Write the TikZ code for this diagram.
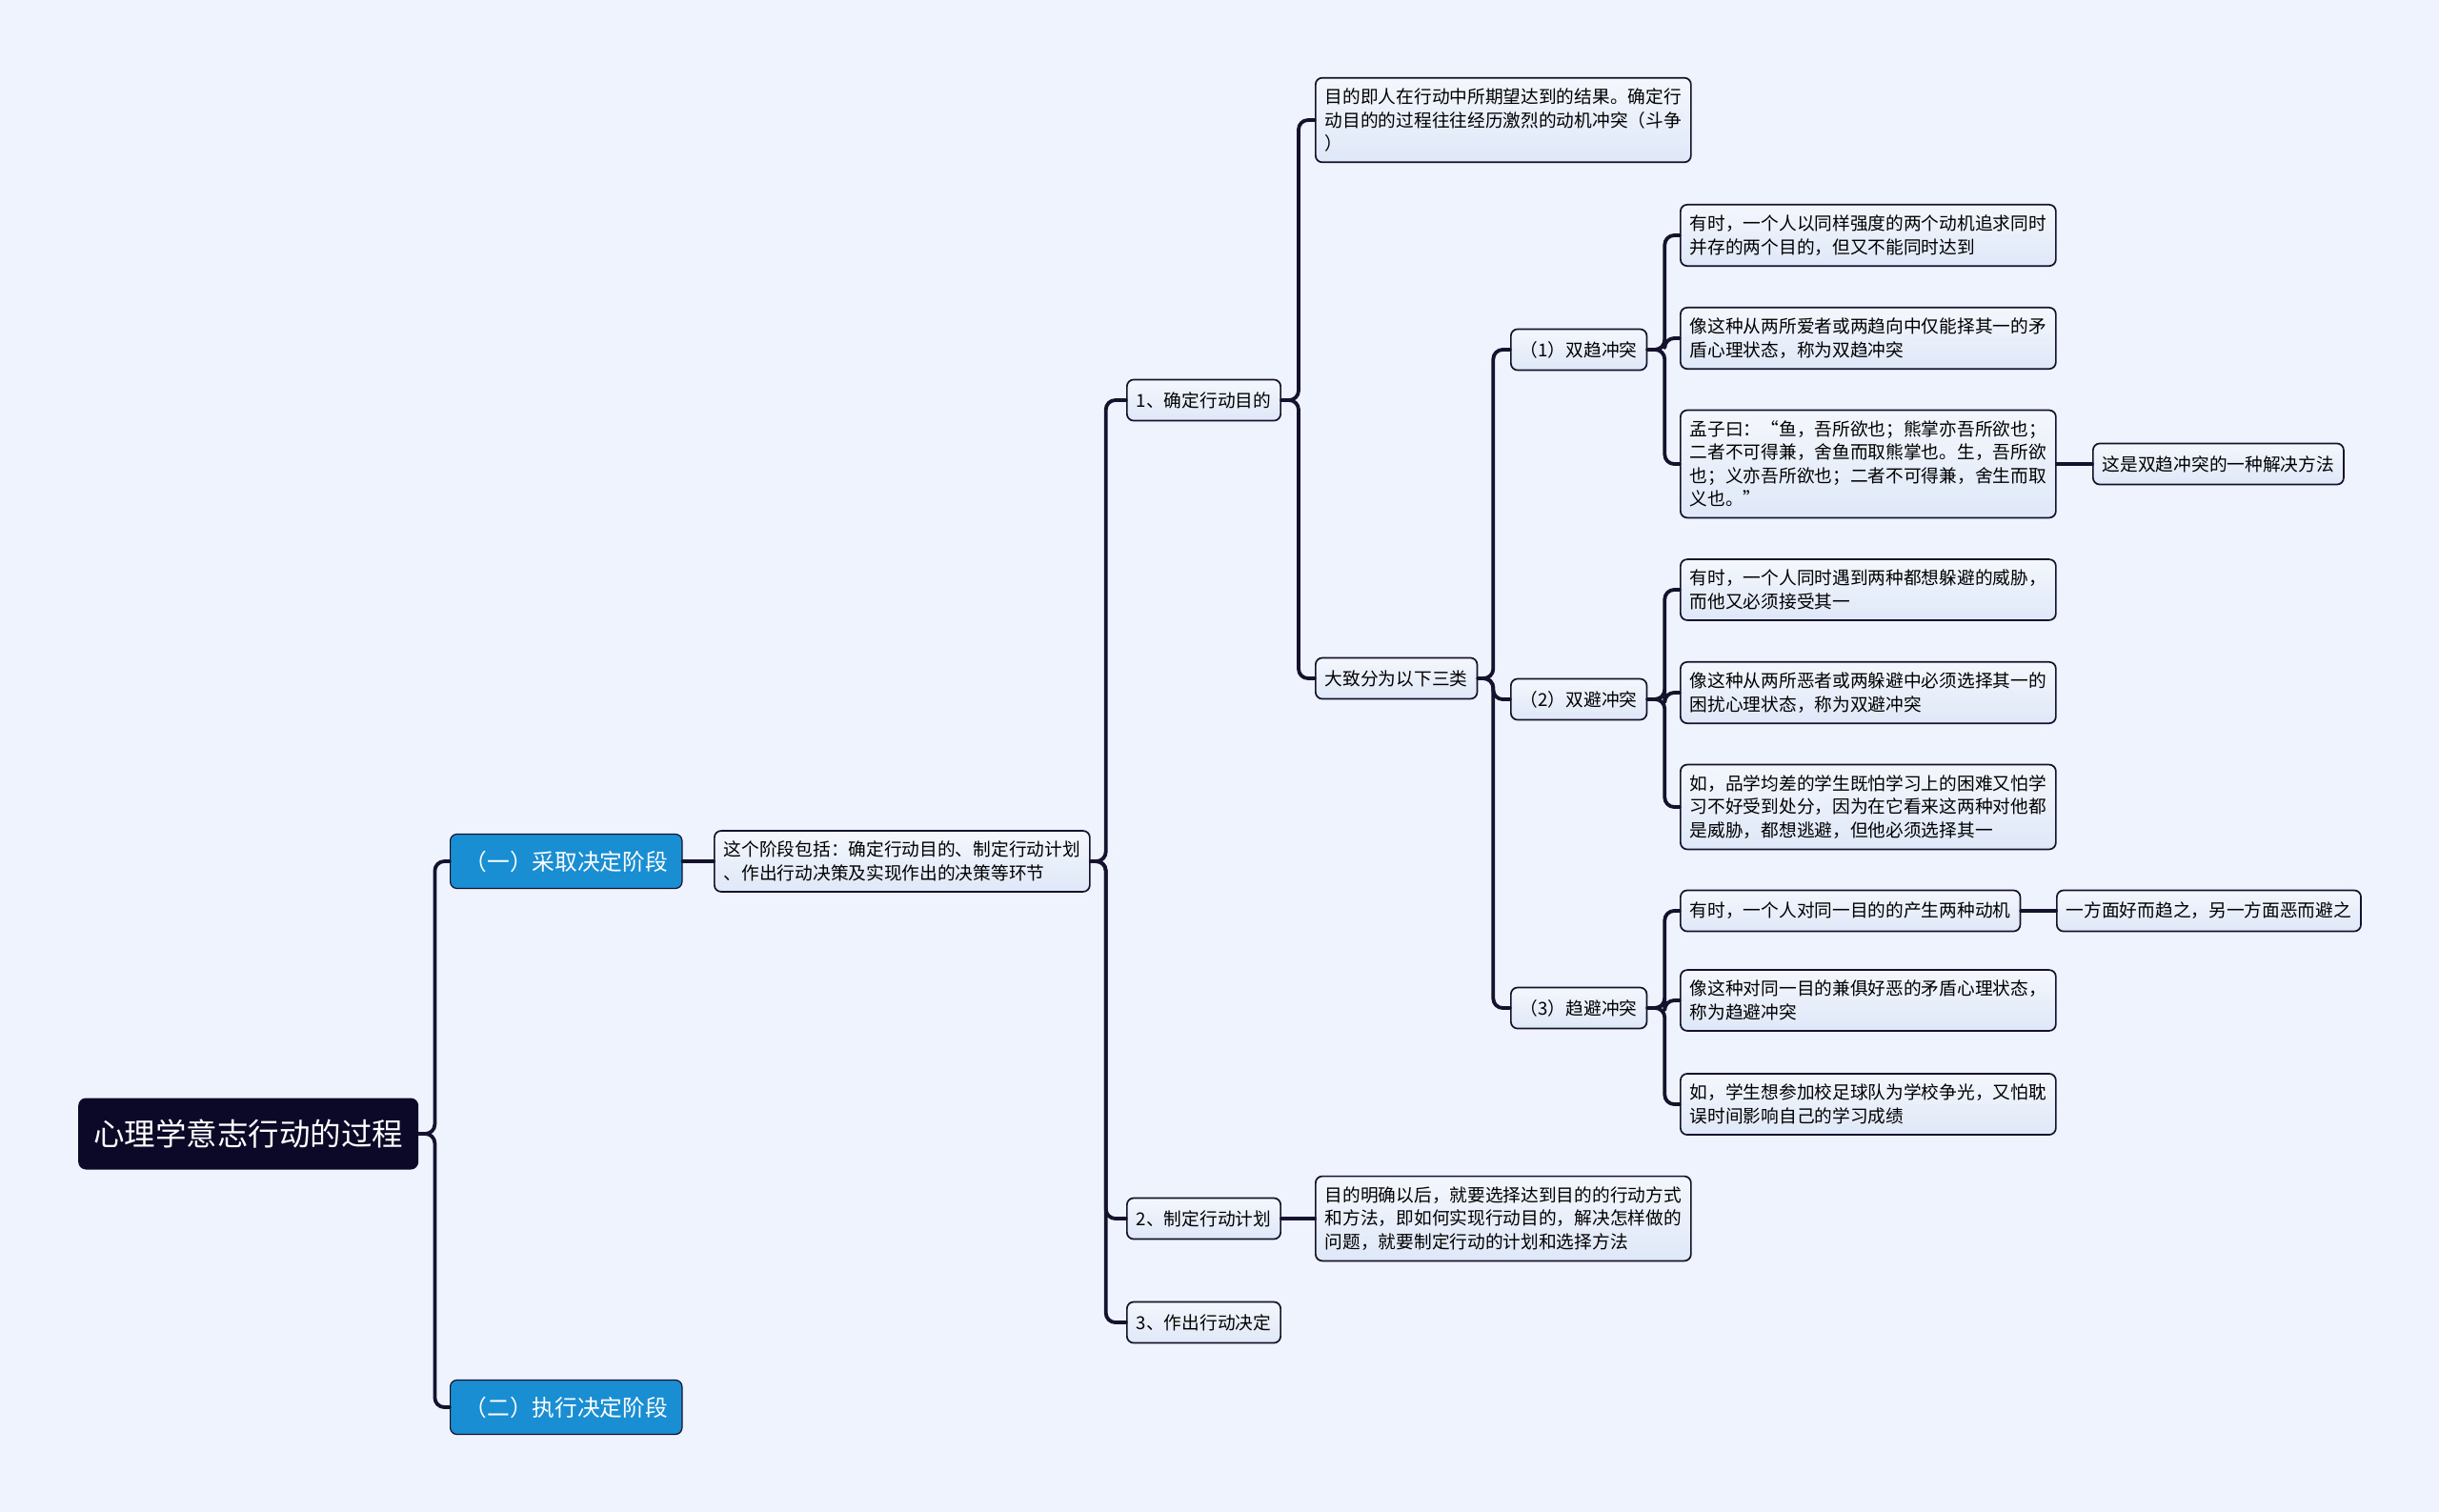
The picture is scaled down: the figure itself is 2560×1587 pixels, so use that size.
\documentclass[tikz,border=0pt]{standalone}
\usepackage{fontspec}
\setmainfont{Noto Sans CJK SC}
\definecolor{paper}{HTML}{EEF3FD}
\definecolor{navy}{HTML}{0B0828}
\definecolor{wire}{HTML}{14122C}
\definecolor{stage}{HTML}{1A8ED2}
\definecolor{card}{HTML}{DFE8F8}

\begin{document}
\begin{tikzpicture}[x=1pt,y=-1pt,line cap=round,line join=round,
  card/.style={draw=wire,line width=1.7pt,rounded corners=7pt,anchor=west,align=left,
    top color=card!35!white,bottom color=card,inner xsep=10pt,inner ysep=11pt,
    minimum height=43pt,font=\fontsize{18.7}{24.5}\selectfont},
  stagebox/.style={draw=wire,line width=1.2pt,rounded corners=7pt,anchor=west,fill=stage,
    text=white,inner xsep=15pt,minimum height=57pt,font=\fontsize{23.7}{28}\selectfont},
  rootbox/.style={rounded corners=8pt,anchor=west,fill=navy,text=white,
    inner xsep=16pt,minimum height=75pt,font=\fontsize{32.5}{36}\selectfont},
  link/.style={draw=wire,line width=3.8pt,rounded corners=10pt}]
  \useasboundingbox[fill=paper] (0,0) rectangle (2560,1587);

  % Root and the two stages
  \node[rootbox] (root) at (82,1190) {心理学意志行动的过程};
  \node[stagebox] (stageA) at (472,904) {（一）采取决定阶段};
  \node[stagebox] (stageB) at (472,1477) {（二）执行决定阶段};
  \node[card] (overview) at (749,904)
    {这个阶段包括：确定行动目的、制定行动计划\\、作出行动决策及实现作出的决策等环节};

  % Three steps of the first stage
  \node[card] (goal) at (1182,420) {1、确定行动目的};
  \node[card] (plan) at (1182,1279) {2、制定行动计划};
  \node[card] (decide) at (1182,1388) {3、作出行动决定};
  \node[card] (goalDef) at (1380,126)
    {目的即人在行动中所期望达到的结果。确定行\\动目的的过程往往经历激烈的动机冲突（斗争\\）};
  \node[card] (types) at (1380,712) {大致分为以下三类};
  \node[card] (planDef) at (1380,1279)
    {目的明确以后，就要选择达到目的的行动方式\\和方法，即如何实现行动目的，解决怎样做的\\问题，就要制定行动的计划和选择方法};

  % Kinds of motive conflict
  \node[card] (dblApp) at (1585,367) {（1）双趋冲突};
  \node[card] (dblAvd) at (1585,734) {（2）双避冲突};
  \node[card] (appAvd) at (1585,1058) {（3）趋避冲突};

  \node[card] (appA) at (1763,247)
    {有时，一个人以同样强度的两个动机追求同时\\并存的两个目的，但又不能同时达到};
  \node[card] (appB) at (1763,355)
    {像这种从两所爱者或两趋向中仅能择其一的矛\\盾心理状态，称为双趋冲突};
  \node[card] (appC) at (1763,487)
    {孟子曰：“鱼，吾所欲也；熊掌亦吾所欲也；\\二者不可得兼，舍鱼而取熊掌也。生，吾所欲\\也；义亦吾所欲也；二者不可得兼，舍生而取\\义也。”};
  \node[card] (appNote) at (2196,487) {这是双趋冲突的一种解决方法};

  \node[card] (avdA) at (1763,619)
    {有时，一个人同时遇到两种都想躲避的威胁，\\而他又必须接受其一};
  \node[card] (avdB) at (1763,727)
    {像这种从两所恶者或两躲避中必须选择其一的\\困扰心理状态，称为双避冲突};
  \node[card] (avdC) at (1763,847)
    {如，品学均差的学生既怕学习上的困难又怕学\\习不好受到处分，因为在它看来这两种对他都\\是威胁，都想逃避，但他必须选择其一};

  \node[card] (mixA) at (1763,956) {有时，一个人对同一目的的产生两种动机};
  \node[card] (mixNote) at (2158,956) {一方面好而趋之，另一方面恶而避之};
  \node[card] (mixB) at (1763,1050)
    {像这种对同一目的兼俱好恶的矛盾心理状态，\\称为趋避冲突};
  \node[card] (mixC) at (1763,1159)
    {如，学生想参加校足球队为学校争光，又怕耽\\误时间影响自己的学习成绩};

  % Connectors
  \foreach \c in {stageA,stageB}
    \draw[link] (root.east) -- ++(17,0) |- (\c.west);
  \draw[link] (stageA.east) -- (overview.west);
  \foreach \c in {goal,plan,decide}
    \draw[link] (overview.east) -- ++(16,0) |- (\c.west);
  \foreach \c in {goalDef,types}
    \draw[link] (goal.east) -- ++(18,0) |- (\c.west);
  \draw[link] (plan.east) -- (planDef.west);
  \foreach \c in {dblApp,dblAvd,appAvd}
    \draw[link] (types.east) -- ++(16,0) |- (\c.west);
  \foreach \c in {appA,appB,appC}
    \draw[link] (dblApp.east) -- ++(18,0) |- (\c.west);
  \foreach \c in {avdA,avdB,avdC}
    \draw[link] (dblAvd.east) -- ++(18,0) |- (\c.west);
  \foreach \c in {mixA,mixB,mixC}
    \draw[link] (appAvd.east) -- ++(18,0) |- (\c.west);
  \draw[link] (appC.east) -- (appNote.west);
  \draw[link] (mixA.east) -- (mixNote.west);
\end{tikzpicture}
\end{document}
